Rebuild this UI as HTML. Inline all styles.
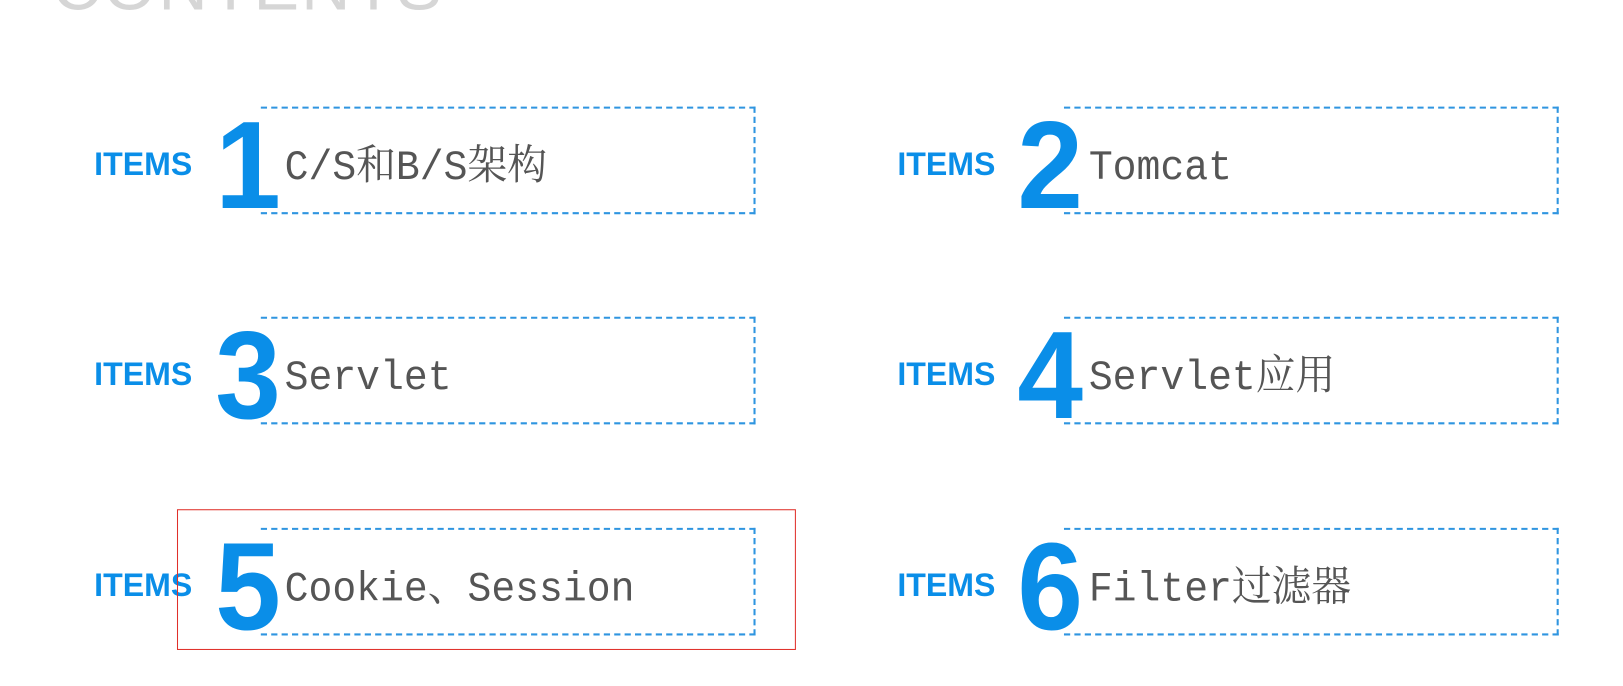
<!DOCTYPE html>
<html><head><meta charset="utf-8"><style>
body{margin:0;width:1623px;height:686px;background:#fff;position:relative;overflow:hidden;font-family:"Liberation Sans",sans-serif}
#w{position:absolute;left:0;top:0;width:1568px;height:663px;transform:scale(1.035);transform-origin:0 0}
.t{position:absolute;left:50px;top:-47px;font-size:66px;color:#d6d6d6;letter-spacing:2px;line-height:66px}
.box{position:absolute;width:478px;height:104px;border:2px dashed #2f95e0;border-left:none;box-sizing:border-box}
.it{position:absolute;font-weight:bold;font-size:31px;color:#0a8ee8;line-height:1;transform:scaleX(1);transform-origin:left}
.d{position:absolute;font-weight:bold;font-size:120px;color:#0a8ee8;line-height:1;transform:scaleX(.95);transform-origin:left}
.x{position:absolute;font-family:"Liberation Mono","Noto Serif CJK SC",serif;font-size:40px;color:#555;line-height:1;white-space:nowrap;transform:scaleX(.96);transform-origin:left}
.red{position:absolute;left:171px;top:492px;width:598px;height:136px;border:1.5px solid #e0302a;box-sizing:border-box}
</style></head><body><div id="w">
<div class="t">CONTENTS</div>

<div class="box" style="left:252px;top:103px"></div>
<div class="box" style="left:1028px;top:103px"></div>
<div class="box" style="left:252px;top:306px"></div>
<div class="box" style="left:1028px;top:306px"></div>
<div class="box" style="left:252px;top:510px"></div>
<div class="box" style="left:1028px;top:510px"></div>

<div class="it" style="left:91px;top:143px">ITEMS</div>
<div class="it" style="left:867px;top:143px">ITEMS</div>
<div class="it" style="left:91px;top:346px">ITEMS</div>
<div class="it" style="left:867px;top:346px">ITEMS</div>
<div class="it" style="left:91px;top:550px">ITEMS</div>
<div class="it" style="left:867px;top:550px">ITEMS</div>

<div class="d" style="left:208px;top:100px">1</div>
<div class="d" style="left:983px;top:100px">2</div>
<div class="d" style="left:208px;top:303px">3</div>
<div class="d" style="left:983px;top:303px">4</div>
<div class="d" style="left:208px;top:507px">5</div>
<div class="d" style="left:983px;top:507px">6</div>

<div class="x" style="left:275px;top:144px">C/S和B/S架构</div>
<div class="x" style="left:1052px;top:144px">Tomcat</div>
<div class="x" style="left:275px;top:347px">Servlet</div>
<div class="x" style="left:1052px;top:347px">Servlet应用</div>
<div class="x" style="left:275px;top:551px">Cookie、Session</div>
<div class="x" style="left:1052px;top:551px">Filter过滤器</div>

<div class="red"></div>
</div></body></html>
